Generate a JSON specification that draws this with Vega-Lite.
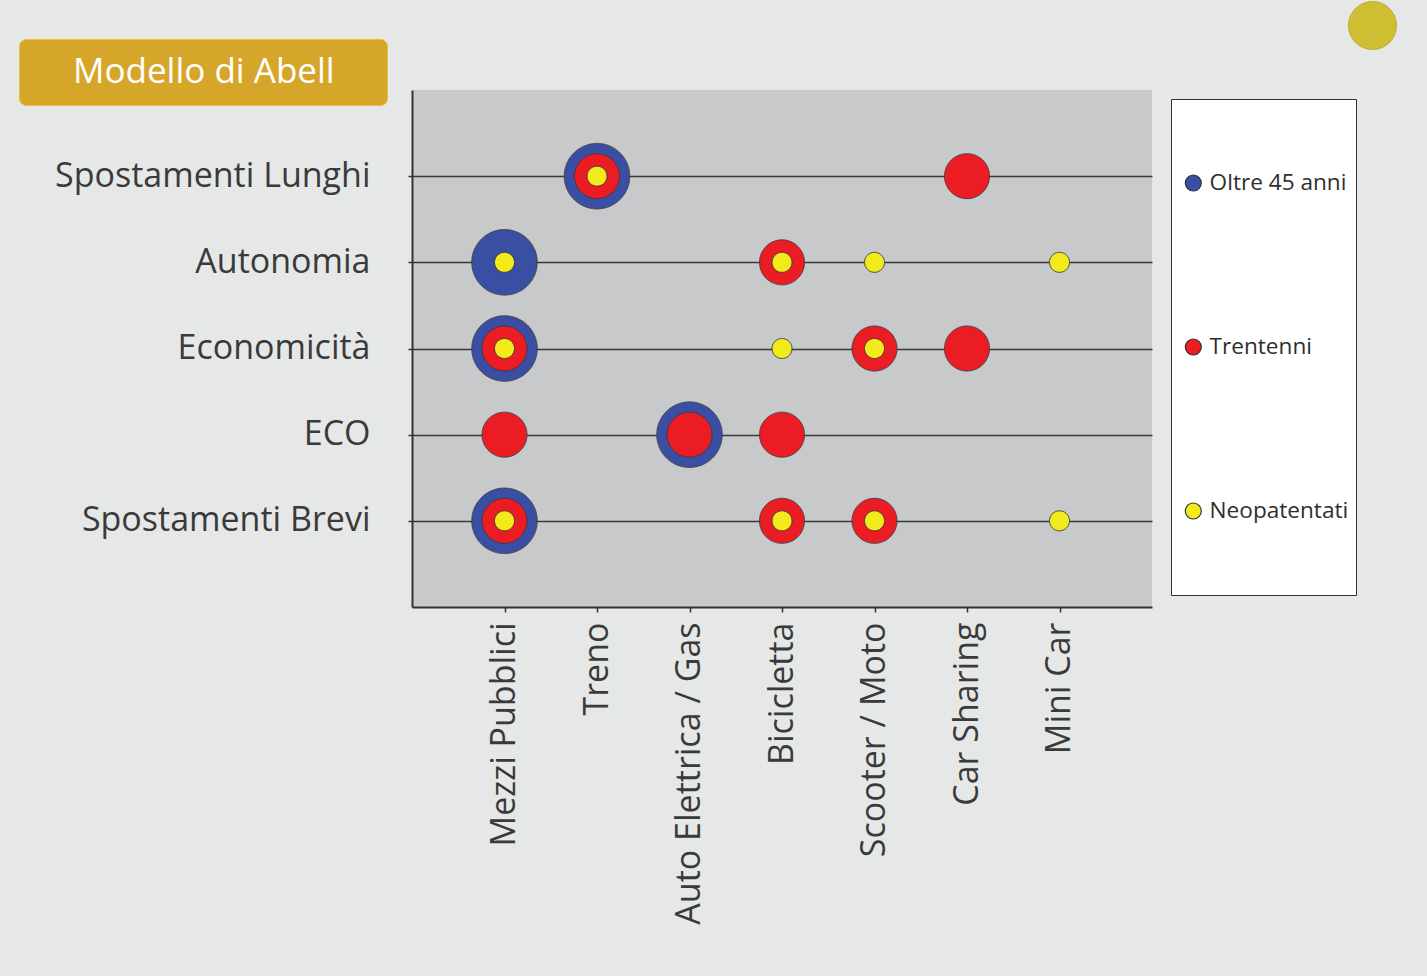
{
  "$schema": "https://vega.github.io/schema/vega-lite/v6.json",
  "width": 740,
  "height": 517,
  "autosize": {"type": "none"},
  "padding": {"left": 412, "top": 90, "right": 275, "bottom": 369},
  "background": "#e6e8e8",
  "data": {
    "values": [
      {"mezzo": "Treno", "criterio": "Spostamenti Lunghi", "gruppo": "Oltre 45 anni"},
      {"mezzo": "Treno", "criterio": "Spostamenti Lunghi", "gruppo": "Trentenni"},
      {"mezzo": "Treno", "criterio": "Spostamenti Lunghi", "gruppo": "Neopatentati"},
      {"mezzo": "Car Sharing", "criterio": "Spostamenti Lunghi", "gruppo": "Trentenni"},
      {"mezzo": "Mezzi Pubblici", "criterio": "Autonomia", "gruppo": "Oltre 45 anni"},
      {"mezzo": "Mezzi Pubblici", "criterio": "Autonomia", "gruppo": "Neopatentati"},
      {"mezzo": "Bicicletta", "criterio": "Autonomia", "gruppo": "Trentenni"},
      {"mezzo": "Bicicletta", "criterio": "Autonomia", "gruppo": "Neopatentati"},
      {"mezzo": "Scooter / Moto", "criterio": "Autonomia", "gruppo": "Neopatentati"},
      {"mezzo": "Mini Car", "criterio": "Autonomia", "gruppo": "Neopatentati"},
      {"mezzo": "Mezzi Pubblici", "criterio": "Economicità", "gruppo": "Oltre 45 anni"},
      {"mezzo": "Mezzi Pubblici", "criterio": "Economicità", "gruppo": "Trentenni"},
      {"mezzo": "Mezzi Pubblici", "criterio": "Economicità", "gruppo": "Neopatentati"},
      {"mezzo": "Bicicletta", "criterio": "Economicità", "gruppo": "Neopatentati"},
      {"mezzo": "Scooter / Moto", "criterio": "Economicità", "gruppo": "Trentenni"},
      {"mezzo": "Scooter / Moto", "criterio": "Economicità", "gruppo": "Neopatentati"},
      {"mezzo": "Car Sharing", "criterio": "Economicità", "gruppo": "Trentenni"},
      {"mezzo": "Mezzi Pubblici", "criterio": "ECO", "gruppo": "Trentenni"},
      {"mezzo": "Auto Elettrica / Gas", "criterio": "ECO", "gruppo": "Oltre 45 anni"},
      {"mezzo": "Auto Elettrica / Gas", "criterio": "ECO", "gruppo": "Trentenni"},
      {"mezzo": "Bicicletta", "criterio": "ECO", "gruppo": "Trentenni"},
      {"mezzo": "Mezzi Pubblici", "criterio": "Spostamenti Brevi", "gruppo": "Oltre 45 anni"},
      {"mezzo": "Mezzi Pubblici", "criterio": "Spostamenti Brevi", "gruppo": "Trentenni"},
      {"mezzo": "Mezzi Pubblici", "criterio": "Spostamenti Brevi", "gruppo": "Neopatentati"},
      {"mezzo": "Bicicletta", "criterio": "Spostamenti Brevi", "gruppo": "Trentenni"},
      {"mezzo": "Bicicletta", "criterio": "Spostamenti Brevi", "gruppo": "Neopatentati"},
      {"mezzo": "Scooter / Moto", "criterio": "Spostamenti Brevi", "gruppo": "Trentenni"},
      {"mezzo": "Scooter / Moto", "criterio": "Spostamenti Brevi", "gruppo": "Neopatentati"},
      {"mezzo": "Mini Car", "criterio": "Spostamenti Brevi", "gruppo": "Neopatentati"}
    ]
  },
  "encoding": {
    "x": {
      "field": "mezzo",
      "type": "nominal",
      "scale": {
        "type": "point",
        "padding": 1,
        "domain": ["Mezzi Pubblici", "Treno", "Auto Elettrica / Gas", "Bicicletta", "Scooter / Moto", "Car Sharing", "Mini Car"]
      },
      "axis": {
        "title": null,
        "labelAngle": 270,
        "labelAlign": "right",
        "labelBaseline": "middle",
        "tickSize": 5,
        "labelPadding": 10,
        "labelLimit": 500,
        "grid": false
      }
    },
    "y": {
      "field": "criterio",
      "type": "nominal",
      "scale": {
        "type": "point",
        "padding": 1,
        "domain": ["Spostamenti Lunghi", "Autonomia", "Economicità", "ECO", "Spostamenti Brevi"]
      },
      "axis": {
        "title": null,
        "grid": true,
        "gridColor": "#3a3a3a",
        "gridWidth": 1.6,
        "gridOpacity": 1,
        "tickSize": 4,
        "labelPadding": 38,
        "labelLimit": 500
      }
    },
    "color": {
      "field": "gruppo",
      "type": "nominal",
      "scale": {
        "domain": ["Oltre 45 anni", "Trentenni", "Neopatentati"],
        "range": ["#3a4fa3", "#ec1c24", "#f3ea1b"]
      },
      "legend": {
        "title": null,
        "orient": "none",
        "legendX": 759,
        "legendY": 9,
        "fillColor": "#ffffff",
        "strokeColor": "#333333",
        "padding": 7,
        "clipHeight": 154,
        "rowPadding": 10,
        "symbolType": "circle",
        "symbolSize": 256,
        "symbolStrokeColor": "#333333",
        "symbolStrokeWidth": 1.2,
        "symbolOpacity": 1,
        "symbolOffset": 4,
        "labelOffset": 5,
        "labelFont": "Open Sans",
        "labelFontSize": 22.6,
        "labelColor": "#2e2e2e",
        "labelLimit": 300
      }
    },
    "opacity": {
      "datum": "Modello di Abell",
      "scale": {"range": [1, 1]},
      "legend": {
        "title": ".",
        "titleOrient": "right",
        "titleColor": "#d6a62b",
        "titleFontSize": 4,
        "titlePadding": 36,
        "orient": "none",
        "legendX": -393,
        "legendY": -51,
        "fillColor": "#d6a62b",
        "strokeColor": "#e8c23a",
        "cornerRadius": 7,
        "padding": 14,
        "clipHeight": 38,
        "symbolSize": 0,
        "symbolStrokeWidth": 0,
        "symbolFillColor": "#d6a62b",
        "symbolOpacity": 0,
        "symbolOffset": 0,
        "labelOffset": 5,
        "labelFont": "Open Sans",
        "labelFontSize": 35,
        "labelColor": "#ffffff",
        "labelLimit": 600
      }
    },
    "strokeDash": {
      "datum": "sfera",
      "scale": {"range": [[1, 0]]},
      "legend": {
        "title": null,
        "orient": "none",
        "legendX": 936,
        "legendY": -89,
        "padding": 0,
        "symbolType": "circle",
        "symbolSize": 2300,
        "symbolFillColor": "#cfbd32",
        "symbolStrokeColor": "#b8a42a",
        "symbolStrokeWidth": 1,
        "symbolDash": [1, 0],
        "symbolOpacity": 1,
        "labelExpr": "''"
      }
    }
  },
  "layer": [
    {
      "transform": [{"filter": "datum.gruppo === 'Oltre 45 anni'"}],
      "mark": {"type": "circle", "size": 4290, "stroke": "#3a3a3a", "strokeWidth": 1, "opacity": 1}
    },
    {
      "transform": [{"filter": "datum.gruppo === 'Trentenni'"}],
      "mark": {"type": "circle", "size": 2025, "stroke": "#3a3a3a", "strokeWidth": 1, "opacity": 1}
    },
    {
      "transform": [{"filter": "datum.gruppo === 'Neopatentati'"}],
      "mark": {"type": "circle", "size": 400, "stroke": "#3a3a3a", "strokeWidth": 1, "opacity": 1}
    }
  ],
  "config": {
    "view": {"fill": "#c8c9cb", "stroke": null},
    "axis": {
      "domainColor": "#333333",
      "domainWidth": 2,
      "tickColor": "#333333",
      "tickWidth": 1.5,
      "labelColor": "#3a3a3a",
      "labelFont": "Open Sans",
      "labelFontSize": 34
    }
  }
}
